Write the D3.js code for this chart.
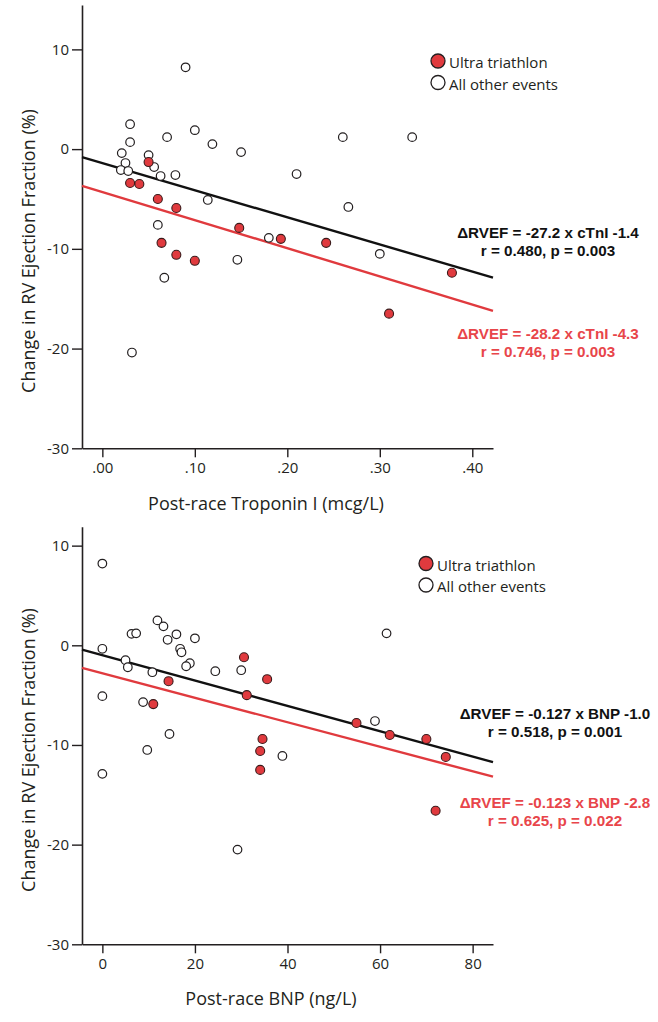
<!DOCTYPE html>
<html>
<head>
<meta charset="utf-8">
<script src="https://cdn.jsdelivr.net/npm/d3@7"></script>
<style>
  body { margin: 0; background: #fff; }
</style>
</head>
<body>
<script>
// Panel A: post-race troponin I vs change in RVEF
const tnUltraX = [0.050, 0.030, 0.040, 0.060, 0.080, 0.148, 0.193, 0.242, 0.064, 0.080, 0.100, 0.378, 0.310];
const tnUltraY = [-1.3, -3.4, -3.5, -5.0, -5.9, -7.9, -9.0, -9.4, -9.4, -10.6, -11.2, -12.4, -16.5];
const tnOtherX = [0.090, 0.030, 0.030, 0.021, 0.025, 0.020, 0.028, 0.050, 0.056, 0.063, 0.070, 0.100, 0.079,
  0.119, 0.150, 0.114, 0.060, 0.210, 0.180, 0.146, 0.067, 0.032, 0.260, 0.335, 0.266, 0.300];
const tnOtherY = [8.2, 2.5, 0.7, -0.4, -1.4, -2.1, -2.2, -0.6, -1.8, -2.7, 1.2, 1.9, -2.6,
  0.5, -0.3, -5.1, -7.6, -2.5, -8.9, -11.1, -12.9, -20.4, 1.2, 1.2, -5.8, -10.5];
const tnTicks = [0, 0.1, 0.2, 0.3, 0.4];

// Panel B: post-race BNP vs change in RVEF
const bnpUltraX = [30.6, 35.6, 14.3, 31.2, 11.0, 34.6, 34.1, 34.1, 54.9, 62.1, 70.0, 74.2, 72.0];
const bnpUltraY = [-1.2, -3.4, -3.6, -5.0, -5.9, -9.4, -10.6, -12.5, -7.8, -9.0, -9.4, -11.2, -16.6];
const bnpOtherX = [0, 0, 0, 6.3, 7.3, 5.0, 5.5, 11.9, 13.2, 16.0, 14.1, 20.0, 16.8, 17.1,
  18.9, 18.1, 10.8, 24.4, 30.0, 8.8, 14.5, 9.7, 38.9, 0, 29.2, 61.4, 58.9];
const bnpOtherY = [8.2, -0.35, -5.1, 1.15, 1.2, -1.5, -2.2, 2.5, 1.9, 1.1, 0.55, 0.7, -0.35, -0.7,
  -1.8, -2.1, -2.7, -2.6, -2.5, -5.7, -8.9, -10.5, -11.1, -12.9, -20.5, 1.2, -7.6];
const bnpTicks = [0, 20, 40, 60, 80];

const yTicks = [10, 0, -10, -20, -30];

// regression fits [slope, intercept] : all events, ultra triathlon
const tnFitAll = [-27.2, -1.4];
const tnFitUltra = [-28.2, -4.3];
const bnpFitAll = [-0.127, -1.0];
const bnpFitUltra = [-0.123, -2.8];

const tnEqAll = ["\u0394RVEF = -27.2 x cTnI -1.4", "r = 0.480, p = 0.003"];
const tnEqUltra = ["\u0394RVEF = -28.2 x cTnI -4.3", "r = 0.746, p = 0.003"];
const bnpEqAll = ["\u0394RVEF = -0.127 x BNP -1.0", "r = 0.518, p = 0.001"];
const bnpEqUltra = ["\u0394RVEF = -0.123 x BNP -2.8", "r = 0.625, p = 0.022"];

const legendLabels = ["Ultra triathlon", "All other events"];

const width = 658;
const height = 1022;
const red = "#e03a3e";
const ink = "#231f20";
const sans = "'Open Sans', sans-serif";

const svg = d3.select("body")
  .append("svg")
  .attr("width", width)
  .attr("height", height);

const drawPanel = (p) => {
  const x = d3.scaleLinear().domain(p.xDomain).range([82, 493]);
  const y = d3.scaleLinear().domain(p.yDomain).range([p.bottom, p.top]);
  const g = svg.append("g");

  // axes (hyphen minus like the original)
  const yAxis = g.append("g")
    .attr("transform", "translate(82,0)")
    .call(d3.axisLeft(y).tickValues(yTicks).tickFormat(d => String(d))
      .tickSize(10).tickPadding(3).tickSizeOuter(0));
  const xAxis = g.append("g")
    .attr("transform", `translate(0,${p.bottom})`)
    .call(d3.axisBottom(x).tickValues(p.xTicks).tickFormat(p.fmt).tickSize(9).tickPadding(5).tickSizeOuter(0));
  [yAxis, xAxis].forEach(a => {
    a.selectAll(".domain").attr("stroke", ink).attr("stroke-width", 1.6);
    a.selectAll(".tick line").attr("stroke", ink).attr("stroke-width", 1.4);
    a.selectAll("text").attr("font-size", 15).attr("fill", ink)
      .attr("font-family", sans);
  });

  g.append("text")
    .attr("transform", `translate(28,${p.yLabelY}) rotate(-90)`)
    .attr("text-anchor", "middle")
    .attr("dominant-baseline", "central")
    .attr("font-family", sans)
    .attr("font-size", 18)
    .attr("fill", ink)
    .text("Change in RV Ejection Fraction (%)");

  g.append("text")
    .attr("x", p.xLabelX)
    .attr("y", p.xLabelY)
    .attr("text-anchor", "middle")
    .attr("dominant-baseline", "central")
    .attr("font-family", sans)
    .attr("font-size", 18)
    .attr("fill", ink)
    .text(p.xLabel);

  // fit lines
  const fitLine = (fit, color) => {
    const xs = p.xDomain;
    g.append("line")
      .attr("x1", x(xs[0])).attr("y1", y(fit[0] * xs[0] + fit[1]))
      .attr("x2", x(xs[1])).attr("y2", y(fit[0] * xs[1] + fit[1]))
      .attr("stroke", color)
      .attr("stroke-width", 2.4);
  };
  fitLine(p.fitAll, "#111");
  fitLine(p.fitUltra, red);

  // points
  g.append("g").selectAll("circle")
    .data(d3.zip(p.otherX, p.otherY))
    .enter()
    .append("circle")
    .attr("cx", d => x(d[0]))
    .attr("cy", d => y(d[1]))
    .attr("r", 4.3)
    .attr("fill", "#fff")
    .attr("stroke", ink)
    .attr("stroke-width", 1.2);
  g.append("g").selectAll("circle")
    .data(d3.zip(p.ultraX, p.ultraY))
    .enter()
    .append("circle")
    .attr("cx", d => x(d[0]))
    .attr("cy", d => y(d[1]))
    .attr("r", 4.5)
    .attr("fill", red)
    .attr("stroke", "#3a1a1a")
    .attr("stroke-width", 1.1);

  // legend
  const lg = g.append("g").attr("transform", `translate(${p.legend[0]},${p.legend[1]})`);
  lg.selectAll("circle")
    .data(legendLabels)
    .enter()
    .append("circle")
    .attr("cx", 0)
    .attr("cy", (d, i) => i * 21.5)
    .attr("r", 7)
    .attr("fill", (d, i) => i === 0 ? red : "#fff")
    .attr("stroke", ink)
    .attr("stroke-width", 1.3);
  lg.selectAll("text")
    .data(legendLabels)
    .enter()
    .append("text")
    .attr("x", 11)
    .attr("y", (d, i) => i * 21.5 + 1)
    .attr("dominant-baseline", "central")
    .attr("font-family", sans)
    .attr("font-size", 15)
    .attr("fill", ink)
    .text(d => d);

  // equations
  const eq = (lines, pos, color) => {
    g.append("g").selectAll("text")
      .data(lines)
      .enter()
      .append("text")
      .attr("x", pos[0])
      .attr("y", (d, i) => pos[1] + i * 18.5)
      .attr("text-anchor", "middle")
      .attr("dominant-baseline", "central")
      .attr("font-family", "'Liberation Sans', Arial, sans-serif")
      .attr("font-weight", "bold")
      .attr("font-size", 15.2)
      .attr("fill", color)
      .text(d => d);
  };
  eq(p.eqAll, p.eqAllPos, "#111");
  eq(p.eqUltra, p.eqUltraPos, "#e8454a");
};

drawPanel({
  xDomain: [-0.022, 0.4224], yDomain: [-30, 14.45], top: 5, bottom: 448.3,
  xTicks: tnTicks, fmt: d => d3.format(".2f")(d).replace(/^0/, ""),
  ultraX: tnUltraX, ultraY: tnUltraY, otherX: tnOtherX, otherY: tnOtherY,
  fitAll: tnFitAll, fitUltra: tnFitUltra,
  eqAll: tnEqAll, eqUltra: tnEqUltra, eqAllPos: [548, 232], eqUltraPos: [548, 333],
  legend: [438, 61], xLabel: "Post-race Troponin I (mcg/L)", xLabelX: 266, xLabelY: 503, yLabelY: 251
});

drawPanel({
  xDomain: [-4.4, 84.4], yDomain: [-30, 11.9], top: 526.7, bottom: 944.3,
  xTicks: bnpTicks, fmt: d3.format("d"),
  ultraX: bnpUltraX, ultraY: bnpUltraY, otherX: bnpOtherX, otherY: bnpOtherY,
  fitAll: bnpFitAll, fitUltra: bnpFitUltra,
  eqAll: bnpEqAll, eqUltra: bnpEqUltra, eqAllPos: [555, 713], eqUltraPos: [555, 802],
  legend: [426, 563.5], xLabel: "Post-race BNP (ng/L)", xLabelX: 271, xLabelY: 998, yLabelY: 750
});
</script>
</body>
</html>
